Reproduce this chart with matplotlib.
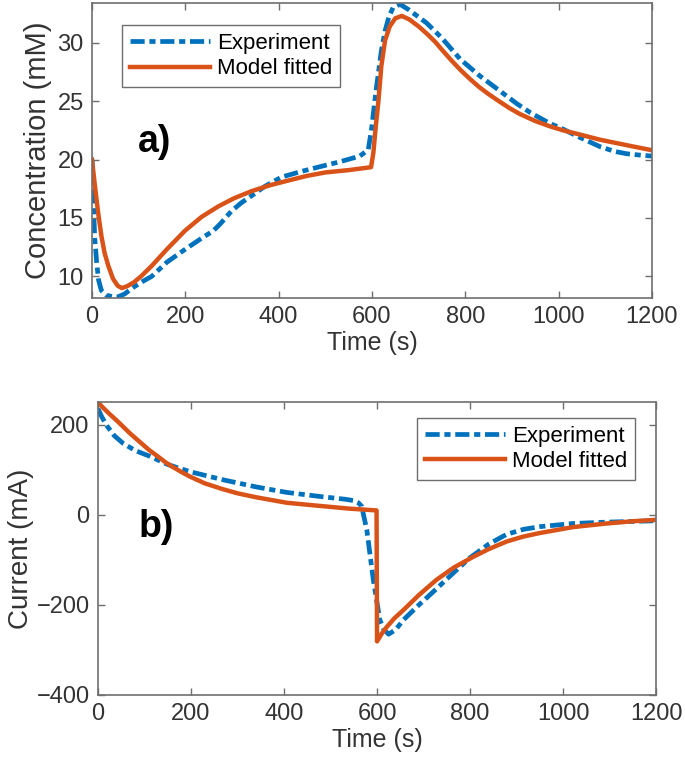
import matplotlib
matplotlib.use("Agg")
import matplotlib.pyplot as plt

# panel a) concentration (mM) vs time (s)
conc_exp_t = [0, 2, 4, 6, 10, 14, 20, 30, 45, 56, 70, 90, 110, 128, 160, 199, 240, 260,
              275, 299, 320, 342, 370, 406, 450, 489, 530, 574, 592, 599, 603, 609, 614,
              620, 628, 636, 645, 660, 680, 700, 717, 750, 789, 830, 860, 880, 910, 940,
              981, 1010, 1040, 1089, 1120, 1146, 1170, 1200]
conc_exp = [20.0, 17.5, 15.2, 13.2, 11.2, 9.7, 8.8, 8.4, 8.25, 8.25, 8.5, 9.1, 9.6, 10.0,
            11.2, 12.3, 13.4, 13.9, 14.5, 15.6, 16.3, 16.9, 17.7, 18.5, 19.0, 19.4, 19.8,
            20.3, 20.85, 22.6, 24.0, 26.0, 27.5, 29.3, 31.0, 32.2, 33.0, 33.3, 32.8, 32.2,
            31.7, 30.4, 28.6, 27.2, 26.3, 25.7, 24.8, 24.0, 23.1, 22.6, 22.0, 21.1, 20.7,
            20.5, 20.4, 20.3]

conc_mod_t = [0, 5, 10, 14, 20, 27, 35, 45, 55, 64, 75, 90, 105, 128, 160, 199, 235, 271,
              305, 342, 381, 420, 460, 500, 550, 598, 603, 608, 614, 620, 628, 638, 650,
              664, 680, 700, 717, 735, 750, 770, 789, 810, 830, 850, 874, 895, 917, 950,
              981, 1010, 1040, 1089, 1150, 1200]
conc_mod = [20.0, 18.2, 16.5, 15.2, 13.5, 12.0, 10.9, 9.8, 9.2, 9.0, 9.15, 9.5, 10.0, 10.9,
            12.3, 13.9, 15.1, 16.0, 16.7, 17.3, 17.8, 18.2, 18.6, 18.9, 19.1, 19.35, 20.6,
            22.8, 25.1, 28.0, 30.2, 31.4, 32.1, 32.3, 32.0, 31.4, 30.8, 30.1, 29.4, 28.5,
            27.7, 26.9, 26.2, 25.6, 24.95, 24.4, 23.9, 23.3, 22.85, 22.5, 22.2, 21.7, 21.2,
            20.8]

# panel b) current (mA) vs time (s)
curr_exp_t = [0, 8, 19, 35, 54, 80, 112, 150, 198, 269, 341, 406, 477, 530, 549, 560, 567,
              578, 592, 606, 615, 625, 640, 657, 690, 728, 765, 800, 840, 879, 915, 951,
              1022, 1094, 1200]
curr_exp = [236, 218, 198, 176, 159, 143, 130, 112, 96, 78, 62, 50, 41, 35, 32, 27, 19, -33,
            -144, -233, -255, -265, -255, -233, -200, -164, -128, -95, -65, -43, -32, -26,
            -19, -16, -13]

curr_mod_t = [0, 12, 25, 40, 54, 70, 90, 110, 126, 145, 160, 180, 198, 230, 269, 300, 341,
              406, 477, 540, 599, 600, 610, 620, 637, 657, 690, 728, 765, 807, 840, 879,
              915, 951, 1022, 1094, 1150, 1200]
curr_mod = [250, 237, 224, 210, 196, 180, 162, 144, 132, 117, 107, 95, 85, 70, 57, 48, 39,
            27, 20, 14, 10, -281, -264, -250, -230, -211, -178, -144, -117, -93, -76, -59,
            -48, -40, -27, -19, -14, -11]

BLUE = "#0072BD"
ORANGE = "#D95319"
TXT = "#333333"
EDGE = "#6e6e6e"
DASH = (0, (3.0, 1.0, 1.3, 1.0))

plt.rcParams["font.family"] = ["Liberation Sans", "DejaVu Sans"]

fig = plt.figure(figsize=(6.85, 7.74), dpi=100)
ax1 = fig.add_axes([0.1343, 0.615, 0.8175, 0.381])
ax2 = fig.add_axes([0.1431, 0.1021, 0.8146, 0.3786])


def style(ax):
    for sp in ax.spines.values():
        sp.set_color(EDGE)
        sp.set_linewidth(1.2)
    ax.tick_params(direction="in", top=True, right=True, length=5, width=1,
                   color=EDGE, labelcolor=TXT, labelsize=17, pad=6)


ax1.plot(conc_exp_t, conc_exp, color=BLUE, lw=3.4, ls=DASH, label="Experiment")
ax1.plot(conc_mod_t, conc_mod, color=ORANGE, lw=3.2, label="Model fitted")
ax1.set_xlim(0, 1200)
ax1.set_ylim(8.15, 33.4)
ax1.set_xticks(range(0, 1201, 200))
ax1.set_yticks([10, 15, 20, 25, 30])
ax1.set_xlabel("Time (s)", fontsize=18, color=TXT, labelpad=2)
ax1.set_ylabel("Concentration (mM)", fontsize=21, color=TXT, labelpad=4)
ax1.text(135, 21.5, "a)", fontsize=27, fontweight="bold", ha="center", va="center")
leg1 = ax1.legend(loc="upper left", bbox_to_anchor=(0.054, 0.925), borderaxespad=0,
                  fontsize=16, handlelength=3.6, fancybox=False, framealpha=1,
                  borderpad=0.35, labelspacing=0.2, handletextpad=0.3)
leg1.get_frame().set_edgecolor(EDGE)
style(ax1)

ax2.plot(curr_exp_t, curr_exp, color=BLUE, lw=3.4, ls=DASH, label="Experiment")
ax2.plot(curr_mod_t, curr_mod, color=ORANGE, lw=3.2, label="Model fitted")
ax2.set_xlim(0, 1200)
ax2.set_ylim(-400, 251)
ax2.set_xticks(range(0, 1201, 200))
ax2.set_yticks([-400, -200, 0, 200])
ax2.set_xlabel("Time (s)", fontsize=18, color=TXT, labelpad=2)
ax2.set_ylabel("Current (mA)", fontsize=20, color=TXT, labelpad=2)
ax2.text(125, -27, "b)", fontsize=27, fontweight="bold", ha="center", va="center")
leg2 = ax2.legend(loc="upper right", bbox_to_anchor=(0.962, 0.945), borderaxespad=0,
                  fontsize=16, handlelength=3.6, fancybox=False, framealpha=1,
                  borderpad=0.35, labelspacing=0.2, handletextpad=0.3)
leg2.get_frame().set_edgecolor(EDGE)
style(ax2)

fig.savefig("out.png", dpi=100)
